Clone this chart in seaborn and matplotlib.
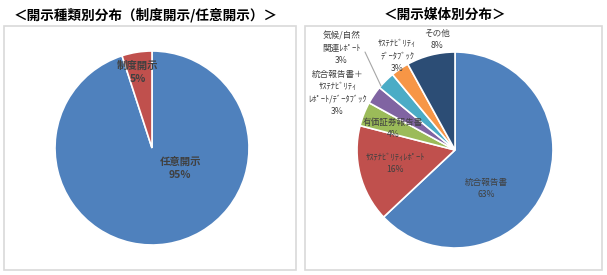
import matplotlib
matplotlib.use("Agg")
import matplotlib.pyplot as plt
import seaborn as sns
from matplotlib.patches import Rectangle

sns.set_theme(style="white")
plt.rcParams['font.family'] = ['Noto Sans CJK JP', 'DejaVu Sans']

# ---- data ----
left_title = "＜開示種類別分布（制度開示/任意開示）＞"
left_labels = ["任意開示", "制度開示"]
left_values = [95, 5]

right_title = "＜開示媒体別分布＞"
right_labels = ["統合報告書", "ｻｽﾃﾅﾋﾞﾘﾃｨﾚﾎﾟｰﾄ", "有価証券報告書",
                "統合報告書＋\nｻｽﾃﾅﾋﾞﾘﾃｨ\nﾚﾎﾟｰﾄ/ﾃﾞｰﾀﾌﾞｯｸ", "気候/自然\n関連ﾚﾎﾟｰﾄ",
                "ｻｽﾃﾅﾋﾞﾘﾃｨ\nﾃﾞｰﾀﾌﾞｯｸ", "その他"]
right_values = [63, 16, 4, 3, 3, 3, 8]

left_colors = ["#4F81BD", "#C0504D"]
right_colors = ["#4F81BD", "#C0504D", "#9BBB59", "#8064A2", "#4BACC6", "#F79646", "#2C4D75"]

W, H = 607, 275
fig = plt.figure(figsize=(W / 100, H / 100), dpi=100)
fig.patch.set_facecolor("white")

def px_axes(cx, cy, r):
    return fig.add_axes([(cx - r) / W, (H - cy - r) / H, 2 * r / W, 2 * r / H])

# frames
for (x0, x1) in [(4, 296), (305, 602)]:
    fig.patches.append(Rectangle((x0 / W, (H - 270) / H), (x1 - x0) / W, (270 - 26) / H,
                                 transform=fig.transFigure, fill=False,
                                 edgecolor="#D9D9D9", linewidth=1.2))

txtc = "#404040"

# left pie
axl = px_axes(152, 148, 97)
axl.pie(left_values, colors=left_colors, startangle=90, counterclock=False,
        wedgeprops=dict(edgecolor="white", linewidth=1.2), radius=1)
axl.set_xlim(-1, 1); axl.set_ylim(-1, 1); axl.set_aspect("auto")
axl.axis("off")
left_pos = [(0.29, -0.21), (-0.15, 0.78)]
for lab, v, (x, y) in zip(left_labels, left_values, left_pos):
    axl.text(x, y, f"{lab}\n{v}%", ha="center", va="center", fontsize=7.5,
             color=txtc, fontweight="bold", linespacing=1.45)
fig.text(146 / W, 1 - 15 / H, left_title, ha="center", va="center",
         fontsize=9.8, fontweight="bold", color="#000000")

# right pie
axr = px_axes(455, 150, 98)
axr.pie(right_values, colors=right_colors, startangle=90, counterclock=False,
        wedgeprops=dict(edgecolor="white", linewidth=1.2), radius=1)
axr.set_xlim(-1, 1); axr.set_ylim(-1, 1); axr.set_aspect("auto")
axr.axis("off")
right_pos = [(0.32, -0.39), (-0.61, -0.14), (-0.63, 0.22), (-1.2, 0.58),
             (-1.16, 1.04), (-0.59, 0.96), (-0.18, 1.13)]
for lab, v, (x, y) in zip(right_labels, right_values, right_pos):
    axr.text(x, y, f"{lab}\n{v}%", ha="center", va="center", fontsize=6.2,
             color=txtc, linespacing=1.5, clip_on=False)
# leader line for 気候/自然
axr.plot([(365 - 455) / 98, (381 - 455) / 98], [(150 - 52) / 98, (150 - 86) / 98],
         color="#A6A6A6", linewidth=0.8, clip_on=False)
fig.text(445 / W, 1 - 15 / H, right_title, ha="center", va="center",
         fontsize=9.8, fontweight="bold", color="#000000")

fig.savefig("out.png", dpi=100, facecolor="white")
